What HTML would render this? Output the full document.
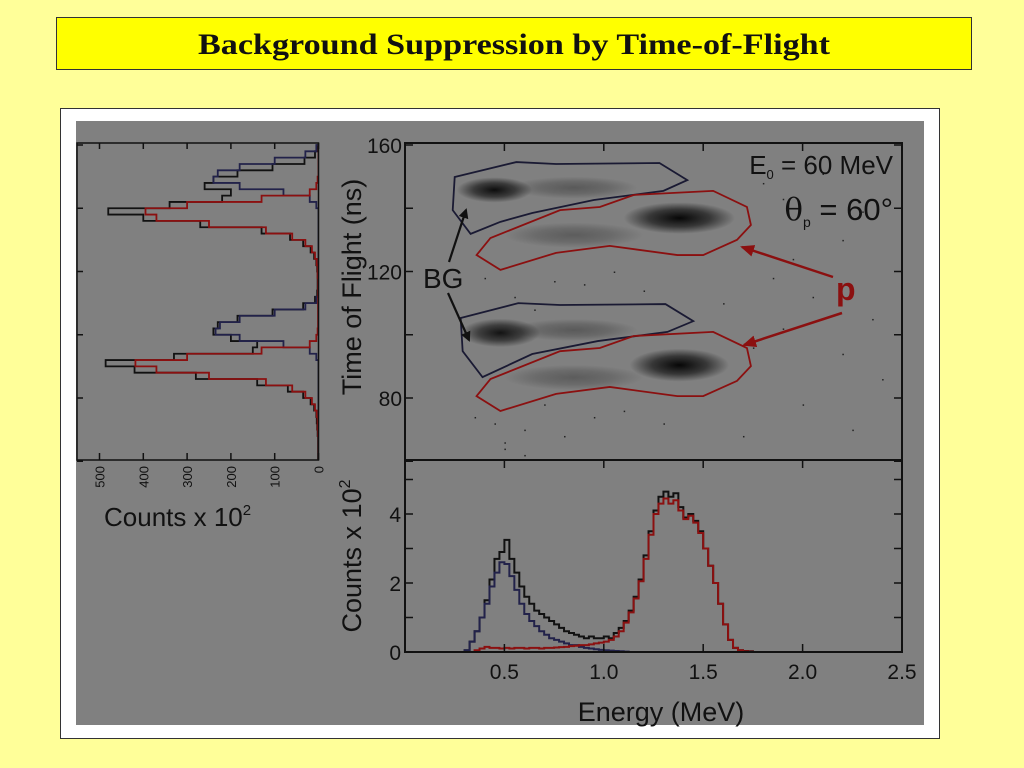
<!DOCTYPE html>
<html><head><meta charset="utf-8"><style>
html,body{margin:0;padding:0;background:#ffff99;}
svg{display:block}
text{font-family:"Liberation Sans",sans-serif;fill:#111;}
</style></head><body>
<svg width="1024" height="768" viewBox="0 0 1024 768">
<rect x="0" y="0" width="1024" height="768" fill="#ffff99"/>
<rect x="56.5" y="17.5" width="915" height="52" fill="#ffff00" stroke="#333" stroke-width="1"/>
<text x="514" y="54" text-anchor="middle" style="font-family:'Liberation Serif',serif;font-weight:bold;font-size:30px" textLength="632" lengthAdjust="spacingAndGlyphs">Background Suppression by Time-of-Flight</text>
<rect x="60.5" y="108.5" width="879" height="630" fill="#fff" stroke="#333"/>
<rect x="76" y="121" width="848" height="604" fill="#808080"/>
<g id="plots"></g>
</svg>
<script>
// ---------- data ----------
const tofBinStart = 60, tofBinWidth = 2;
const tofBlack = [1,1,1,1,2,3,4,5,10,18,35,70,140,280,420,486,330,150,140,200,240,230,185,105,35,8,3,2,2,2,3,5,10,18,35,65,130,270,400,480,340,220,200,260,240,185,105,32,8,2];
const tofRed   = [0,0,0,0,1,2,2,4,8,15,30,60,120,250,370,418,300,130,20,5,2,1,1,1,1,1,1,1,1,2,2,4,8,15,30,60,120,250,370,395,300,130,20,5,2,0,0,0,0,0];
const tofBlue  = [0,0,0,0,0,0,0,0,0,0,0,0,0,0,0,0,5,20,80,180,235,225,180,100,30,5,0,0,0,0,0,0,0,0,0,0,0,0,0,0,5,20,80,180,240,230,180,100,30,5];
const countTicks = [0,100,200,300,400,500];

const eBinStart = 0.3, eBinWidth = 0.025;
const eBlack = [0.05,0.3,0.6,1.0,1.5,2.1,2.7,2.9,3.25,2.7,2.3,1.9,1.6,1.4,1.2,1.1,1.0,0.9,0.8,0.7,0.6,0.55,0.5,0.45,0.4,0.45,0.4,0.4,0.45,0.4,0.55,0.7,0.9,1.2,1.6,2.1,2.8,3.5,4.1,4.5,4.65,4.5,4.6,4.2,3.9,4.0,3.8,3.5,3.0,2.5,2.0,1.4,0.8,0.35,0.12,0.05,0.03,0.02];
const eBlue  = [0.05,0.3,0.6,1.0,1.4,1.9,2.3,2.6,2.55,2.2,1.8,1.4,1.1,0.9,0.75,0.6,0.5,0.4,0.35,0.3,0.25,0.2,0.2,0.15,0.12,0.1,0.08,0.06,0.05,0.04,0.03,0.02,0.01,0,0,0,0,0,0,0,0,0,0,0,0,0,0,0,0,0,0,0,0,0,0,0,0,0];
const eRed   = [0,0,0.05,0.1,0.15,0.12,0.12,0.1,0.12,0.1,0.12,0.12,0.1,0.12,0.12,0.1,0.12,0.12,0.13,0.14,0.15,0.17,0.18,0.2,0.2,0.22,0.25,0.27,0.3,0.35,0.45,0.6,0.85,1.15,1.55,2.05,2.7,3.4,4.0,4.3,4.45,4.3,4.4,4.1,3.85,3.95,3.75,3.45,3.0,2.5,2.0,1.4,0.8,0.35,0.12,0.05,0.02,0.01];
const energyTicks = [0.5,1.0,1.5,2.0,2.5];
const energyTickLabels = ["0.5","1.0","1.5","2.0","2.5"];
const countsTicks = [0,2,4];
const tofTicks = [80,120,160];

// gate polygons (E [MeV], T [ns])
const bgUpperE = [0.25,0.56,0.76,1.28,1.42,1.30,0.95,0.64,0.48,0.33,0.24];
const bgUpperT = [149.9,154.6,154.0,154.3,148.9,145.5,142.6,138.5,135.7,131.9,139.4];
const pUpperE = [0.36,0.43,0.78,0.98,1.15,1.55,1.72,1.74,1.67,1.50,1.37,1.03,0.76,0.48];
const pUpperT = [125.2,130.6,139.4,140.4,144.2,145.5,140.4,134.7,130.0,125.2,125.2,128.1,125.9,120.5];
const bgLowerE = [0.28,0.57,0.78,1.31,1.45,1.32,0.97,0.64,0.39,0.29];
const bgLowerT = [105.3,110.0,109.4,109.7,104.3,100.9,98.0,93.9,86.6,94.8];
const pLowerE = [0.36,0.43,0.78,0.98,1.15,1.55,1.72,1.74,1.67,1.50,1.37,1.03,0.76,0.48];
const pLowerT = [80.6,86.0,94.8,95.8,99.6,100.9,95.8,90.1,85.4,80.6,80.6,83.5,81.3,75.9];

// scatter cluster densities
const clusterE = [0.45,0.85,1.38,0.85,0.48,0.85,1.38,0.85];
const clusterT = [145.8,146.5,136.9,131.5,100.6,101.5,90.4,86.5];
const clusterSE = [0.19,0.32,0.28,0.35,0.2,0.32,0.25,0.35];
const clusterST = [4.0,3.5,5.0,4.0,4.5,3.5,5.2,4.0];
const clusterDens = [0.9,0.3,0.95,0.28,0.85,0.3,0.95,0.28];
// sparse events
const sparseE = [1.8,1.9,2.1,2.3,2.2,1.95,1.85,2.05,2.35,1.75,0.45,0.6,0.8,0.95,1.1,0.5,0.7,0.35,0.55,0.9,1.2,1.6,1.9,2.2,2.4,0.4,0.65,1.3,1.05,0.75,2.0,2.25,1.7,0.5,0.6];
const sparseT = [148,143,151,139,130,124,118,112,105,96,72,70,68,74,76,66,78,74,112,116,114,110,102,94,86,118,108,72,120,117,78,70,68,64,62];

// ---------- scales ----------
const X0=405, X1=902;
const xE = e => X0 + e*(X1-X0)/2.5;
const yT = t => 145 + (160-t)*3.1625;
const TOP=143, MID=460, BOT=652;
const yC = c => BOT - c*34.5;
const LX0=77, LX1=318.5;
const xCnt = c => LX1 - c*0.438;

const NS="http://www.w3.org/2000/svg";
const root=document.getElementById('plots');
function mk(tag, attrs, parent){const e=document.createElementNS(NS,tag);for(const k in attrs)e.setAttribute(k,attrs[k]);(parent||root).appendChild(e);return e;}
function txt(s,attrs,parent){const e=mk('text',attrs,parent);e.textContent=s;return e;}

const defs=mk('defs',{});
const rg=mk('radialGradient',{id:'blob'},defs);
mk('stop',{offset:'0','stop-color':'#000','stop-opacity':'1'},rg);
mk('stop',{offset:'0.55','stop-color':'#000','stop-opacity':'0.6'},rg);
mk('stop',{offset:'1','stop-color':'#000','stop-opacity':'0'},rg);
const cpTop=mk('clipPath',{id:'cpTop'},defs);mk('rect',{x:X0,y:TOP,width:X1-X0,height:MID-TOP},cpTop);
const cpBot=mk('clipPath',{id:'cpBot'},defs);mk('rect',{x:X0,y:MID,width:X1-X0,height:BOT-MID+2},cpBot);
const cpL=mk('clipPath',{id:'cpL'},defs);mk('rect',{x:LX0,y:TOP,width:LX1-LX0,height:MID-TOP},cpL);
const mk1=mk('marker',{id:'arrK',markerWidth:'10',markerHeight:'10',refX:'8',refY:'5',orient:'auto',markerUnits:'userSpaceOnUse'},defs);
mk('path',{d:'M0,0 L10,5 L0,10 Z',fill:'#111'},mk1);
const mk2=mk('marker',{id:'arrR',markerWidth:'14',markerHeight:'12',refX:'12',refY:'6',orient:'auto',markerUnits:'userSpaceOnUse'},defs);
mk('path',{d:'M0,0 L14,6 L0,12 Z',fill:'#8b1010'},mk2);

// ---------- scatter plot ----------
const gS=mk('g',{'clip-path':'url(#cpTop)'});


for(let i=0;i<clusterE.length;i++){
  const el=mk('ellipse',{cx:xE(clusterE[i]),cy:yT(clusterT[i]),rx:clusterSE[i]*(X1-X0)/2.5,ry:clusterST[i]*3.1625,fill:'url(#blob)','fill-opacity':clusterDens[i]},gS);
  
  
}
for(let i=0;i<sparseE.length;i++){
  const el=mk('rect',{x:xE(sparseE[i]),y:yT(sparseT[i]),width:1.5,height:1.5,fill:'#222'},gS);
  
  
}
function poly(E,T,color,name){
  const p=mk('polygon',{points:E.map((e,i)=>xE(e)+','+yT(T[i])).join(' '),fill:'none',stroke:color,'stroke-width':1.8},gS);
  
  
}
poly(bgUpperE,bgUpperT,'#1a1a33','bg-gate-upper');
poly(pUpperE,pUpperT,'#8b1010','proton-gate-upper');
poly(bgLowerE,bgLowerT,'#1a1a33','bg-gate-lower');
poly(pLowerE,pLowerT,'#8b1010','proton-gate-lower');

// ---------- energy histogram ----------
function eStep(vals,color,name){
  let d='M'+X0+','+BOT+' L'+xE(eBinStart)+','+BOT;
  vals.forEach((v,i)=>{const a=xE(eBinStart+i*eBinWidth),b=xE(eBinStart+(i+1)*eBinWidth);d+=' L'+a+','+yC(v)+' L'+b+','+yC(v);});
  d+=' L'+xE(eBinStart+vals.length*eBinWidth)+','+BOT+' L'+X1+','+BOT;
  const p=mk('path',{d:d,fill:'none',stroke:color,'stroke-width':2,'clip-path':'url(#cpBot)'});
  
  
}
eStep(eBlack,'#111','energy-hist-total');
eStep(eBlue,'#22224a','energy-hist-bg');
eStep(eRed,'#8b1010','energy-hist-proton');

// ---------- TOF histogram ----------
function tStep(vals,color,name){
  let d='M'+LX1+','+yT(tofBinStart);
  vals.forEach((v,i)=>{const a=yT(tofBinStart+i*tofBinWidth),b=yT(tofBinStart+(i+1)*tofBinWidth);d+=' L'+xCnt(v)+','+a+' L'+xCnt(v)+','+b;});
  d+=' L'+LX1+','+yT(tofBinStart+vals.length*tofBinWidth);
  const p=mk('path',{d:d,fill:'none',stroke:color,'stroke-width':1.8,'clip-path':'url(#cpL)'});
  
  
}
tStep(tofBlack,'#111','tof-hist-total');
tStep(tofBlue,'#22224a','tof-hist-bg');
tStep(tofRed,'#8b1010','tof-hist-proton');

// ---------- frames & ticks ----------
const fr=mk('path',{d:`M${X0},${TOP} H${X1} V${BOT} H${X0} Z M${X0},${MID} H${X1}`,fill:'none',stroke:'#111','stroke-width':2});


const lf=mk('rect',{x:LX0,y:TOP,width:LX1-LX0,height:MID-TOP,fill:'none',stroke:'#111','stroke-width':1.5});



let td='';
for(let t=60;t<=160;t+=20){const y=yT(t);td+=`M${X0},${y}h8M${X1},${y}h-8M${LX0},${y}h6`;}
energyTicks.forEach(e=>{const x=xE(e);td+=`M${x},${TOP}v8M${x},${MID}v8M${x},${BOT}v-8`;});
for(let c=0;c<=5;c++){const y=yC(c);td+=`M${X0},${y}h8M${X1},${y}h-8`;}
countTicks.forEach(c=>{const x=xCnt(c);td+=`M${x},${MID}v-7M${x},${TOP}v6`;});
const tk=mk('path',{d:td,stroke:'#111','stroke-width':1.5,fill:'none'});



tofTicks.forEach(t=>{
  const e=txt(String(t),{x:X0-3,y:yT(t)+8,'text-anchor':'end','font-size':21});
  
  
});
countsTicks.forEach(c=>{
  const e=txt(String(c),{x:X0-4,y:yC(c)+8,'text-anchor':'end','font-size':21});
  
  
});
energyTicks.forEach((v,i)=>{
  const e=txt(energyTickLabels[i],{x:xE(v),y:679,'text-anchor':'middle','font-size':21});
  
  
});
countTicks.forEach(c=>{
  const x=xCnt(c);
  const e=txt(String(c),{x:0,y:0,'text-anchor':'end','font-size':13,transform:`translate(${x+5},${466}) rotate(-90)`});
  
  
});
</script>
<script>
const svg=document.querySelector('svg');
const lay=document.createElementNS("http://www.w3.org/2000/svg",'g');svg.appendChild(lay);
lay.innerHTML=`
<text x="104" y="526" font-size="26">Counts x 10<tspan dy="-11" font-size="15">2</tspan></text>
<text transform="translate(361,287) rotate(-90)" text-anchor="middle" font-size="27">Time of Flight (ns)</text>
<text transform="translate(361,556) rotate(-90)" text-anchor="middle" font-size="27">Counts x 10<tspan dy="-11" font-size="16">2</tspan></text>
<text x="661" y="721" text-anchor="middle" font-size="27">Energy (MeV)</text>
<text x="893" y="174" text-anchor="end" font-size="26">E<tspan font-size="13" dy="5">0</tspan><tspan dy="-5"> = 60 MeV</tspan></text>
<text x="893" y="220" text-anchor="end" font-size="31"><tspan style="font-family:'DejaVu Serif',serif">θ</tspan><tspan font-size="14" dy="7">p</tspan><tspan dy="-7"> = 60°</tspan></text>
<text x="423" y="288" font-size="28">BG</text>
<text x="836" y="300" font-size="32" style="fill:#8b1010;font-weight:bold">p</text>
<line x1="449" y1="262" x2="466" y2="210" stroke="#111" stroke-width="2.2" marker-end="url(#arrK)"/>
<line x1="448" y1="293" x2="469" y2="340" stroke="#111" stroke-width="2.2" marker-end="url(#arrK)"/>
<line x1="833" y1="277" x2="742" y2="247" stroke="#8b1010" stroke-width="2.5" marker-end="url(#arrR)"/>
<line x1="842" y1="313" x2="744" y2="345" stroke="#8b1010" stroke-width="2.5" marker-end="url(#arrR)"/>
`;
</script>
</body></html>
